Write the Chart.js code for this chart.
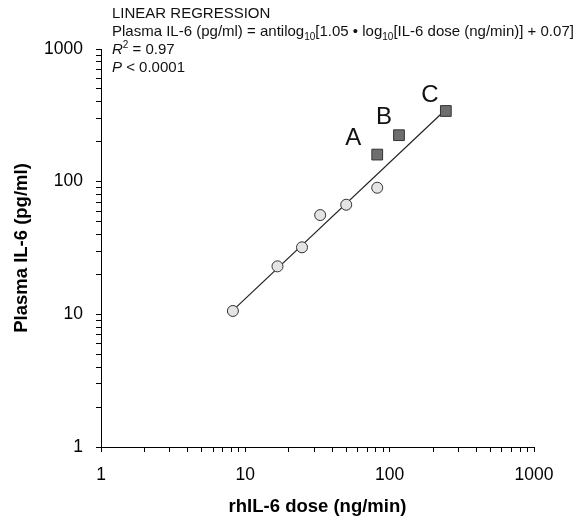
<!DOCTYPE html>
<html>
<head>
<meta charset="utf-8">
<script src="https://cdn.jsdelivr.net/npm/chart.js@4/dist/chart.umd.min.js"></script>
<style>
html,body{margin:0;padding:0;background:#fff;}
#wrap{width:580px;height:521px;}
</style>
</head>
<body>
<div id="wrap"><canvas id="c" width="580" height="521"></canvas></div>
<script>
// ---- data ----
const circleDose = [8.2, 16.7, 24.7, 33, 50, 82];
const circleIL6  = [10.6, 23, 32, 56, 67, 90];
const squareDose = [82, 116, 245];
const squareIL6  = [160, 224, 341];
const squareLabels = ['A', 'B', 'C'];
const fitDose = [8.2, 245];
const fitIL6  = [10.7, 350];
const majorTicks = [1, 10, 100, 1000];
const minorFactors = [2, 3, 4, 5, 6, 7, 8, 9];
const xTitle = 'rhIL-6 dose (ng/min)';
const yTitle = 'Plasma IL-6 (pg/ml)';

const FONT = "'Liberation Sans', Arial, Helvetica, sans-serif";

const allTicks = [];
majorTicks.forEach((m, i) => {
  allTicks.push(m);
  if (i < majorTicks.length - 1) minorFactors.forEach(f => allTicks.push(m * f));
});

function toXY(xs, ys) { return xs.map((x, i) => ({x: x, y: ys[i]})); }

const labelOffsets = [[-24, -16], [-15, -18], [-16, -16]];

const annotPlugin = {
  id: 'annot',
  afterDraw(chart) {
    const ctx = chart.ctx;
    ctx.save();
    // letters next to squares
    const meta = chart.getDatasetMeta(1);
    ctx.fillStyle = '#111';
    ctx.font = '24px ' + FONT;
    ctx.textAlign = 'center';
    ctx.textBaseline = 'middle';
    meta.data.forEach((pt, i) => {
      ctx.fillText(squareLabels[i], pt.x + labelOffsets[i][0], pt.y + labelOffsets[i][1]);
    });
    // regression text block
    ctx.textAlign = 'left';
    ctx.textBaseline = 'alphabetic';
    const x0 = 112;
    const lines = [
      [{t: 'LINEAR REGRESSION'}],
      [{t: 'Plasma IL-6 (pg/ml) = antilog'}, {t: '10', s: 'sub'}, {t: '[1.05 \u2022 log'}, {t: '10', s: 'sub'}, {t: '[IL-6 dose (ng/min)] + 0.07]'}],
      [{t: 'R', i: true}, {t: '2', s: 'sup'}, {t: ' = 0.97'}],
      [{t: 'P', i: true}, {t: ' < 0.0001'}]
    ];
    const base = [18, 36, 54, 72];
    lines.forEach((segs, li) => {
      let x = x0;
      segs.forEach(sg => {
        let size = 15, dy = 0;
        if (sg.s === 'sub') { size = 10; dy = 4; }
        if (sg.s === 'sup') { size = 10; dy = -6; }
        ctx.font = (sg.i ? 'italic ' : '') + size + 'px ' + FONT;
        ctx.fillText(sg.t, x, base[li] + dy);
        x += ctx.measureText(sg.t).width;
      });
    });
    ctx.restore();
  }
};

const axisCommon = {
  type: 'logarithmic',
  min: 1,
  max: 1000,
  grid: { drawOnChartArea: false, drawTicks: true, tickLength: 5, color: '#000', lineWidth: 1 },
  border: { display: true, color: '#000', width: 1 },
  afterBuildTicks(scale) {
    scale.ticks = allTicks.map(v => ({ value: v, major: majorTicks.includes(v) }));
  },
  ticks: {
    autoSkip: false,
    maxRotation: 0,
    padding: 13,
    color: '#000',
    font: { family: FONT, size: 17.5 },
    callback(v) { return majorTicks.includes(v) ? String(v) : ''; }
  }
};

new Chart(document.getElementById('c'), {
  type: 'scatter',
  data: {
    datasets: [
      {
        label: 'circles',
        data: toXY(circleDose, circleIL6),
        pointStyle: 'circle',
        pointRadius: 5.5,
        backgroundColor: '#e4e4e4',
        borderColor: '#333',
        borderWidth: 1
      },
      {
        label: 'squares',
        data: toXY(squareDose, squareIL6),
        pointStyle: 'rect',
        pointRadius: 7.6,
        backgroundColor: '#6e6e6e',
        borderColor: '#333',
        borderWidth: 1
      },
      {
        label: 'fit',
        data: toXY(fitDose, fitIL6),
        showLine: true,
        pointRadius: 0,
        borderColor: '#222',
        borderWidth: 1.2,
        fill: false
      }
    ]
  },
  options: {
    responsive: false,
    animation: false,
    events: [],
    layout: { padding: { top: 49, right: 46, left: 0, bottom: 0 } },
    plugins: { legend: { display: false }, tooltip: { enabled: false } },
    scales: {
      x: Object.assign({}, axisCommon, {
        position: 'bottom',
        afterFit(s) { s.height = 74; },
        title: { display: true, text: xTitle, color: '#000', font: { family: FONT, size: 18.5, weight: 'bold' }, padding: { top: 0, bottom: 3 } }
      }),
      y: Object.assign({}, axisCommon, {
        position: 'left',
        afterFit(s) { s.width = 101; },
        title: { display: true, text: yTitle, color: '#000', font: { family: FONT, size: 18.5, weight: 'bold' }, padding: { top: 11, bottom: 0 } }
      })
    }
  },
  plugins: [annotPlugin]
});
</script>
</body>
</html>
